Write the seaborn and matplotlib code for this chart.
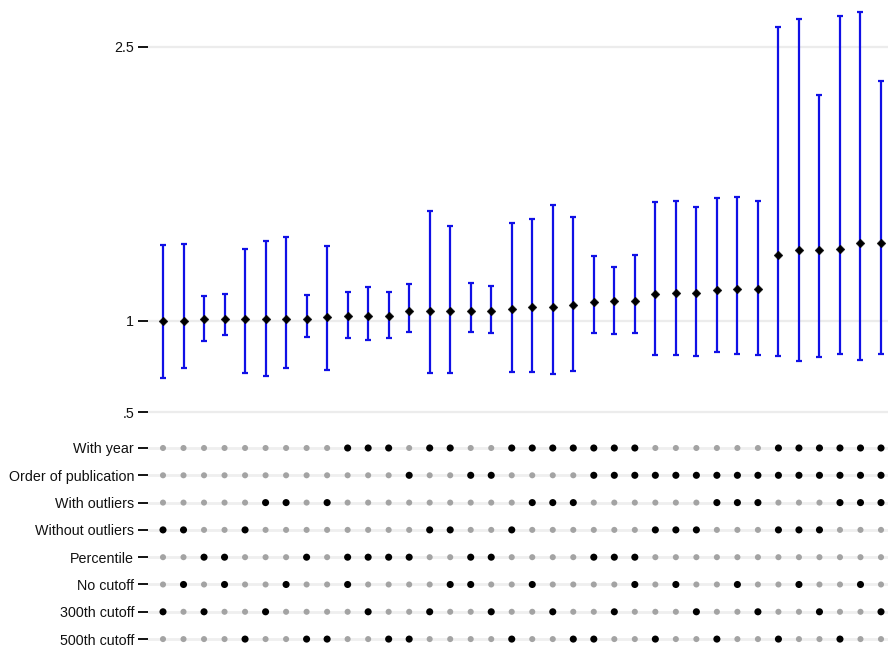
import numpy as np
import pandas as pd
import matplotlib
matplotlib.use("Agg")
import matplotlib.pyplot as plt
import seaborn as sns

# Point estimates and 95% confidence bounds for each specification (sorted)
estimate = [1.000, 1.000, 1.011, 1.011, 1.011, 1.013, 1.013, 1.013, 1.022, 1.027,
            1.027, 1.027, 1.053, 1.053, 1.053, 1.056, 1.056, 1.066, 1.077, 1.077,
            1.086, 1.102, 1.109, 1.109, 1.148, 1.153, 1.153, 1.168, 1.177, 1.177,
            1.360, 1.389, 1.389, 1.394, 1.427, 1.427]
ci_low = [0.690, 0.744, 0.892, 0.922, 0.717, 0.697, 0.743, 0.911, 0.733, 0.907,
          0.896, 0.909, 0.941, 0.717, 0.717, 0.941, 0.933, 0.722, 0.722, 0.712,
          0.725, 0.936, 0.927, 0.936, 0.816, 0.814, 0.807, 0.832, 0.821, 0.812,
          0.810, 0.781, 0.803, 0.821, 0.785, 0.818]
ci_high = [1.414, 1.423, 1.138, 1.149, 1.396, 1.436, 1.458, 1.141, 1.411, 1.160,
           1.186, 1.157, 1.203, 1.604, 1.518, 1.206, 1.192, 1.535, 1.560, 1.633,
           1.569, 1.356, 1.294, 1.360, 1.653, 1.657, 1.622, 1.675, 1.677, 1.658,
           2.608, 2.655, 2.235, 2.668, 2.693, 2.316]

# Specification choices (1 = included in that specification)
spec_labels = ["With year", "Order of publication", "With outliers",
               "Without outliers", "Percentile", "No cutoff",
               "300th cutoff", "500th cutoff"]
with_year = [0, 0, 0, 0, 0, 0, 0, 0, 0, 1, 1, 1, 0, 1, 1, 0, 0, 1,
             1, 1, 1, 1, 1, 1, 0, 0, 0, 0, 0, 0, 1, 1, 1, 1, 1, 1]
order_pub = [0, 0, 0, 0, 0, 0, 0, 0, 0, 0, 0, 0, 1, 0, 0, 1, 1, 0,
             0, 0, 0, 1, 1, 1, 1, 1, 1, 1, 1, 1, 1, 1, 1, 1, 1, 1]
with_outl = [0, 0, 0, 0, 0, 1, 1, 0, 1, 0, 0, 0, 0, 0, 0, 0, 0, 0,
             1, 1, 1, 0, 0, 0, 0, 0, 0, 1, 1, 1, 0, 0, 0, 1, 1, 1]
without_outl = [1, 1, 0, 0, 1, 0, 0, 0, 0, 0, 0, 0, 0, 1, 1, 0, 0, 1,
                0, 0, 0, 0, 0, 0, 1, 1, 1, 0, 0, 0, 1, 1, 1, 0, 0, 0]
percentile = [0, 0, 1, 1, 0, 0, 0, 1, 0, 1, 1, 1, 1, 0, 0, 1, 1, 0,
              0, 0, 0, 1, 1, 1, 0, 0, 0, 0, 0, 0, 0, 0, 0, 0, 0, 0]
no_cutoff = [0, 1, 0, 1, 0, 0, 1, 0, 0, 1, 0, 0, 0, 0, 1, 1, 0, 0,
             1, 0, 0, 0, 0, 1, 0, 1, 0, 0, 1, 0, 0, 1, 0, 0, 1, 0]
cut_300 = [1, 0, 1, 0, 0, 1, 0, 0, 0, 0, 1, 0, 0, 1, 0, 0, 1, 0,
           0, 1, 0, 0, 1, 0, 0, 0, 1, 0, 0, 1, 0, 0, 1, 0, 0, 1]
cut_500 = [0, 0, 0, 0, 1, 0, 0, 1, 1, 0, 0, 1, 1, 0, 0, 0, 0, 1,
           0, 0, 1, 1, 0, 0, 1, 0, 0, 1, 0, 0, 1, 0, 0, 1, 0, 0]

y_ticks = [0.5, 1.0, 2.5]
y_tick_labels = [".5", "1", "2.5"]

spec_rows = [with_year, order_pub, with_outl, without_outl,
             percentile, no_cutoff, cut_300, cut_500]
n = len(estimate)
spec_id = np.arange(1, n + 1)

est_df = pd.DataFrame({"spec": spec_id, "estimate": estimate,
                       "low": ci_low, "high": ci_high})
grid_df = pd.DataFrame(
    [(i + 1, r, bool(row[i])) for r, row in enumerate(spec_rows) for i in range(n)],
    columns=["spec", "row", "on"])

sns.set_theme(style="white")
plt.rcParams["font.family"] = ["Liberation Sans", "DejaVu Sans"]

W, H = 888, 647
fig = plt.figure(figsize=(W / 100, H / 100), dpi=100)

x_left = 148
x_lim = (1 - (163 - x_left) / 20.514, 36 + 7 / 20.514)

# Upper panel: estimates with confidence intervals
top_px, bot_px = 0, 425
ax1 = fig.add_axes([x_left / W, 1 - bot_px / H, 1 - x_left / W, (bot_px - top_px) / H])
px_per_unit = 182.7
ax1.set_ylim(1 - (bot_px - 321) / px_per_unit, 1 + (321 - top_px) / px_per_unit)
ax1.set_xlim(*x_lim)

for yt in y_ticks:
    ax1.axhline(yt, color="#ececec", lw=1.6, zorder=0)

ax1.errorbar(est_df["spec"], est_df["estimate"],
             yerr=[est_df["estimate"] - est_df["low"], est_df["high"] - est_df["estimate"]],
             fmt="none", ecolor="#1010e6", elinewidth=1.6, capsize=2.4, capthick=1.6,
             zorder=2)
sns.scatterplot(data=est_df, x="spec", y="estimate", marker="D", s=20,
                color="black", edgecolor="black", linewidth=0.3, ax=ax1, zorder=3)

ax1.set_yticks(y_ticks)
ax1.set_yticklabels(y_tick_labels)
ax1.set_xticks([])
ax1.set_xlabel("")
ax1.set_ylabel("")
for s in ax1.spines.values():
    s.set_visible(False)
ax1.tick_params(axis="y", left=True, length=7, width=1.3, color="black",
                pad=3, labelsize=10.3, labelcolor="#111111")

# Lower panel: specification indicator matrix
ax2 = fig.add_axes([x_left / W, 0, 1 - x_left / W, (H - 434.35) / H])
ax2.set_xlim(*x_lim)
ax2.set_ylim(7.29, -0.5)
for r in range(len(spec_labels)):
    ax2.axhline(r, color="#efefef", lw=2.0, zorder=0)

sns.scatterplot(data=grid_df[~grid_df["on"]], x="spec", y="row", s=19,
                color="#a3a3a3", edgecolor="none", ax=ax2, zorder=2)
sns.scatterplot(data=grid_df[grid_df["on"]], x="spec", y="row", s=26,
                color="black", edgecolor="none", ax=ax2, zorder=3)

ax2.set_yticks(range(len(spec_labels)))
ax2.set_yticklabels(spec_labels)
ax2.set_xticks([])
ax2.set_xlabel("")
ax2.set_ylabel("")
for s in ax2.spines.values():
    s.set_visible(False)
ax2.tick_params(axis="y", left=True, length=7, width=1.3, color="black",
                pad=3, labelsize=10.3, labelcolor="#111111")

fig.savefig("out.png", dpi=100, facecolor="white")
